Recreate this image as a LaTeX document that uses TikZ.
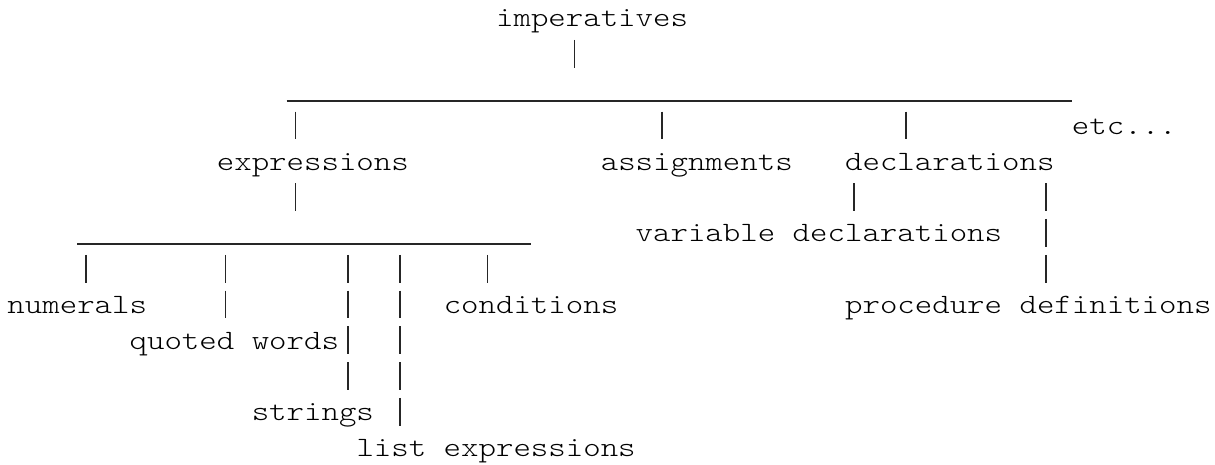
\documentclass[tikz,border=0pt]{standalone}
\usepackage{fontspec}
\newfontfamily\monofnt[FakeStretch=1.187]{lmmonolt10-regular.otf}
\newcommand\vbar[3]{%
  \coordinate (#1t) at ({#2+0.5},{#3-0.637});
  \coordinate (#1b) at ({#2+0.5},{#3+0.14});
  \draw[pipe] (#1t) -- (#1b);}
\begin{document}
\begin{tikzpicture}[x=17.45pt,y=-35.8pt,
  txt/.style={anchor=base west,inner sep=0pt,outer sep=0pt,
    font=\monofnt\fontsize{28pt}{35.8pt}\selectfont,text=black},
  pipe/.style={draw=black!85,line width=1.7pt},
  bar/.style={draw=black!85,line width=1.8pt}]
\useasboundingbox[fill=white] (-0.4298,-0.7542) rectangle (69.198,12.2346);
% text nodes
\node[txt] (imp) at (28,0) {imperatives};
\node[txt] (etc) at (61,3) {etc...};
\node[txt] (expr) at (12,4) {expressions};
\node[txt] (assign) at (34,4) {assignments};
\node[txt] (decl) at (48,4) {declarations};
\node[txt] (vardecl) at (36,6) {variable declarations};
\node[txt] (num) at (0,8) {numerals};
\node[txt] (cond) at (25,8) {conditions};
\node[txt] (proc) at (48,8) {procedure definitions};
\node[txt] (quoted) at (7,9) {quoted words};
\node[txt] (str) at (14,11) {strings};
\node[txt] (list) at (20,12) {list expressions};
% horizontal bars
\coordinate (barAL) at (16,2.056);
\coordinate (barAR) at (61,2.056);
\draw[bar] (barAL) -- (barAR);
\coordinate (barBL) at (4,6.056);
\coordinate (barBR) at (30,6.056);
\draw[bar] (barBL) -- (barBR);
% vertical bars
\vbar{p1}{32}{1}
\vbar{p2}{16}{3}
\vbar{p3}{37}{3}
\vbar{p4}{51}{3}
\vbar{p5}{16}{5}
\vbar{p6}{48}{5}
\vbar{p7}{59}{5}
\vbar{p8}{59}{6}
\vbar{p9}{4}{7}
\vbar{p10}{12}{7}
\vbar{p11}{19}{7}
\vbar{p12}{22}{7}
\vbar{p13}{27}{7}
\vbar{p14}{59}{7}
\vbar{p15}{12}{8}
\vbar{p16}{19}{8}
\vbar{p17}{22}{8}
\vbar{p18}{19}{9}
\vbar{p19}{22}{9}
\vbar{p20}{19}{10}
\vbar{p21}{22}{10}
\vbar{p22}{22}{11}
\end{tikzpicture}
\end{document}
